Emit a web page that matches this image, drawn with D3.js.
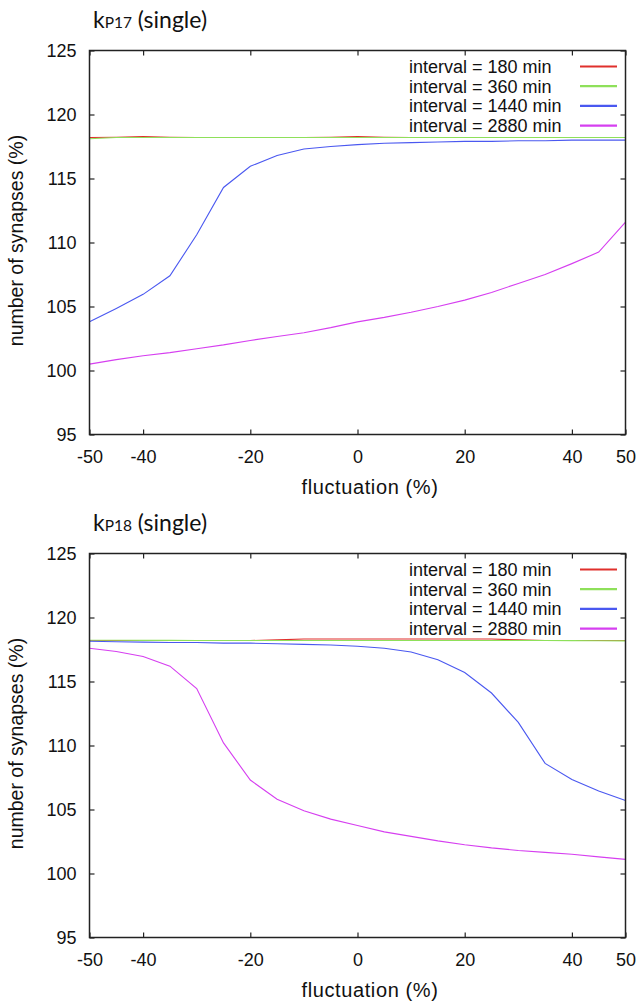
<!DOCTYPE html>
<html>
<head>
<meta charset="utf-8">
<script src="https://cdn.jsdelivr.net/npm/d3@7"></script>
<style>
  body { margin: 0; background: #fff; }
  svg { display: block; }
  text { font-family: "Liberation Sans", Arial, Helvetica, sans-serif; fill: #111; }
</style>
</head>
<body>
<svg width="638" height="1005"></svg>
<script>
"use strict";

// Data.

var fluctuation = [-50, -45, -40, -35, -30, -25, -20, -15, -10, -5, 0, 5, 10, 15, 20, 25, 30, 35, 40, 45, 50];

var xTicks = [-50, -40, -20, 0, 20, 40, 50];
var yTicks = [95, 100, 105, 110, 115, 120, 125];

var seriesNames = ["interval = 180 min", "interval = 360 min", "interval = 1440 min", "interval = 2880 min"];

// kP17
var p17_180  = [118.2, 118.22, 118.28, 118.22, 118.2, 118.2, 118.2, 118.2, 118.2, 118.22, 118.28, 118.22, 118.2, 118.2, 118.2, 118.2, 118.2, 118.2, 118.2, 118.2, 118.2];
var p17_360  = [118.1, 118.2, 118.2, 118.2, 118.2, 118.2, 118.2, 118.2, 118.2, 118.2, 118.2, 118.2, 118.2, 118.2, 118.2, 118.2, 118.2, 118.2, 118.2, 118.2, 118.2];
var p17_1440 = [103.8, 104.85, 105.95, 107.4, 110.6, 114.3, 115.95, 116.8, 117.3, 117.5, 117.65, 117.75, 117.8, 117.85, 117.9, 117.9, 117.95, 117.95, 118.0, 118.0, 118.0];
var p17_2880 = [100.5, 100.85, 101.15, 101.4, 101.7, 102.0, 102.35, 102.65, 102.95, 103.35, 103.8, 104.15, 104.55, 105.0, 105.5, 106.1, 106.8, 107.5, 108.35, 109.25, 111.6];

// kP18
var p18_180  = [118.2, 118.2, 118.2, 118.2, 118.2, 118.2, 118.2, 118.25, 118.32, 118.32, 118.32, 118.32, 118.32, 118.32, 118.32, 118.32, 118.25, 118.2, 118.2, 118.2, 118.2];
var p18_360  = [118.22, 118.22, 118.21, 118.21, 118.2, 118.2, 118.2, 118.2, 118.2, 118.2, 118.2, 118.2, 118.2, 118.2, 118.2, 118.2, 118.2, 118.2, 118.19, 118.18, 118.17];
var p18_1440 = [118.15, 118.1, 118.08, 118.05, 118.05, 118.0, 118.0, 117.95, 117.9, 117.85, 117.75, 117.6, 117.3, 116.7, 115.7, 114.1, 111.8, 108.6, 107.35, 106.45, 105.7];
var p18_2880 = [117.6, 117.35, 116.95, 116.2, 114.45, 110.2, 107.3, 105.8, 104.9, 104.25, 103.75, 103.25, 102.9, 102.55, 102.25, 102.0, 101.8, 101.65, 101.5, 101.3, 101.1];

// Styles.

var SeriesColors = ["#e0302c", "#8ee05a", "#4a58f0", "#d63ff0"];

var PlotLeft = 89.5;
var PlotRight = 625.5;
var PlotHeight = 384;
var TickLen = 5;

var svg = d3.select("svg");

var x = d3.scaleLinear().domain([-50, 50]).range([PlotLeft, PlotRight]);

// Plain hyphen minus, like gnuplot.
var TickFmt = function(d){ return String(d); };

var DrawPanel = function(top, sub, series){
    var y = d3.scaleLinear().domain([95, 125]).range([top + PlotHeight, top]);
    var g = svg.append("g");

    // Data lines, in gnuplot order (later ones on top).
    var line = d3.line()
        .x(function(d, i){ return x(fluctuation[i]); })
        .y(function(d){ return y(d); });

    series.forEach(function(s, k){
        g.append("path")
            .datum(s)
            .attr("d", line)
            .attr("fill", "none")
            .attr("stroke", SeriesColors[k])
            .attr("stroke-width", 1.1);
    });

    // Axes, ticks pointing inwards on all four sides.
    var bottom = g.append("g")
        .attr("transform", "translate(0," + (top + PlotHeight) + ")")
        .call(d3.axisBottom(x).tickValues(xTicks).tickSize(-TickLen).tickPadding(16).tickFormat(TickFmt));
    var topAx = g.append("g")
        .attr("transform", "translate(0," + top + ")")
        .call(d3.axisTop(x).tickValues(xTicks).tickSize(-TickLen).tickFormat(""));
    var left = g.append("g")
        .attr("transform", "translate(" + PlotLeft + ",0)")
        .call(d3.axisLeft(y).tickValues(yTicks).tickSize(-TickLen).tickPadding(13).tickFormat(TickFmt));
    var right = g.append("g")
        .attr("transform", "translate(" + PlotRight + ",0)")
        .call(d3.axisRight(y).tickValues(yTicks).tickSize(-TickLen).tickFormat(""));

    [bottom, topAx, left, right].forEach(function(a){
        a.select(".domain").remove();
        a.selectAll(".tick line").attr("stroke", "#222").attr("stroke-width", 1.2);
        a.selectAll(".tick text")
            .style("font-family", "'Liberation Sans', Arial, sans-serif")
            .style("font-size", "18px")
            .attr("fill", "#111");
    });

    // Frame.
    g.append("rect")
        .attr("x", PlotLeft)
        .attr("y", top)
        .attr("width", PlotRight - PlotLeft)
        .attr("height", PlotHeight)
        .attr("fill", "none")
        .attr("stroke", "#222")
        .attr("stroke-width", 1.5);

    // Legend.
    seriesNames.forEach(function(name, k){
        var ly = top + 16 + k*19.7;
        g.append("text")
            .attr("x", 409)
            .attr("y", ly)
            .attr("dy", "0.35em")
            .style("font-size", "18px")
            .text(name);
        g.append("line")
            .attr("x1", 580)
            .attr("x2", 617)
            .attr("y1", ly)
            .attr("y2", ly)
            .attr("stroke", SeriesColors[k])
            .attr("stroke-width", 2.2);
    });

    // Axis titles.
    g.append("text")
        .attr("x", 370)
        .attr("y", top + PlotHeight + 59.5)
        .attr("text-anchor", "middle")
        .style("font-size", "20px")
        .style("letter-spacing", "0.6px")
        .text("fluctuation (%)");

    g.append("text")
        .attr("transform", "translate(23," + (top + PlotHeight/2 - 2) + ") rotate(-90)")
        .attr("text-anchor", "middle")
        .style("font-size", "19.5px")
        .text("number of synapses (%)");

    // Panel title, k with a small-caps style subscript.
    var t = g.append("text")
        .attr("x", 93)
        .attr("y", top - 22.5)
        .style("font-family", "Lato, 'Open Sans', sans-serif")
        .style("font-size", "23px");
    t.append("tspan").text("k");
    t.append("tspan").style("font-size", "15.5px").text(sub);
    t.append("tspan").text(" (single)");
};

DrawPanel(50.5, "P17", [p17_180, p17_360, p17_1440, p17_2880]);
DrawPanel(553.5, "P18", [p18_180, p18_360, p18_1440, p18_2880]);
</script>
</body>
</html>
